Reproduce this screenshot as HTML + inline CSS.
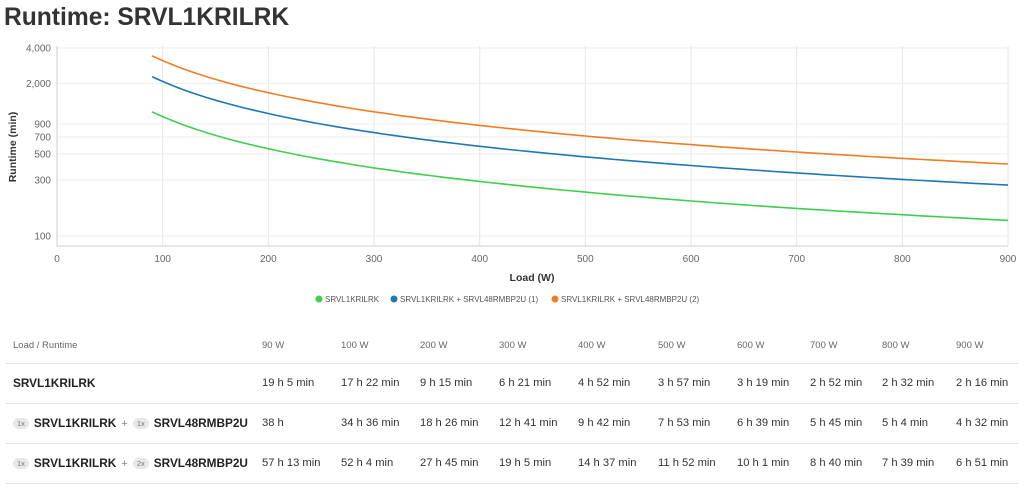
<!DOCTYPE html>
<html><head><meta charset="utf-8"><style>
body{margin:0;width:1024px;height:492px;overflow:hidden;background:#fff;font-family:"Liberation Sans",Arial,sans-serif;color:#333;position:relative}
h1{position:absolute;left:4px;top:4px;margin:0;font-size:24.6px;font-weight:bold;color:#333}
svg{position:absolute;left:0;top:0}
.t{position:absolute;font-size:11.2px;white-space:nowrap}
.hd{font-size:9.5px;color:#666}
.hr{position:absolute;left:5px;width:1014px;height:1px;background:#e4e4e4}
.b{font-weight:bold;font-size:11.8px;color:#222}
.bd{display:inline-block;background:#e8e8e8;border-radius:7px;font-size:7.5px;color:#777;padding:1px 4px;margin-right:5px;vertical-align:1px;font-weight:normal}
.p{color:#888;margin:0 5px;font-weight:normal}
</style></head><body>
<h1>Runtime: SRVL1KRILRK</h1>
<svg id="c" width="1024" height="330" font-family="Liberation Sans, Arial, sans-serif"></svg>
<div id="tb"></div>
<script>
var s='',X=function(w){return 57+w*1.0567},Y=function(v){return 48+(Math.log10(4000)-Math.log10(v))*117.4};
for(var g=100;g<=900;g+=100)s+='<line x1="'+X(g)+'" y1="46" x2="'+X(g)+'" y2="246" stroke="#e6e6e6"/>';
[4000,2000,900,700,500,300,100].forEach(function(v){var y=Y(v);s+='<line x1="57" y1="'+y+'" x2="1008" y2="'+y+'" stroke="#ececec"/><text x="51" y="'+(y+3.5)+'" font-size="10" fill="#666" text-anchor="end">'+v.toLocaleString('en-US')+'</text>';});
s+='<line x1="57" y1="46" x2="57" y2="246" stroke="#ccc"/><line x1="57" y1="246" x2="1008" y2="246" stroke="#ccc"/>';
for(var g=0;g<=900;g+=100)s+='<text x="'+X(g)+'" y="262" font-size="10" fill="#666" text-anchor="middle">'+g+'</text>';
s+='<text x="532" y="281" font-size="10.5" font-weight="bold" fill="#333" text-anchor="middle">Load (W)</text>';
s+='<text transform="translate(16,147) rotate(-90)" font-size="10.5" font-weight="bold" fill="#333" text-anchor="middle">Runtime (min)</text>';
var W=[90,100,200,300,400,500,600,700,800,900];
var D=[[1145,1042,555,381,292,237,199,172,152,136],[2280,2076,1106,761,582,473,399,345,304,272],[3433,3124,1665,1145,877,712,601,520,459,411]];
var C=['#3ecf4f','#1f77b4','#ef7e22'];
D.forEach(function(d,k){var pts=[];for(var i=0;i<W.length-1;i++){for(var t=0;t<=1;t+=0.1){var lw=Math.log(W[i])+(Math.log(W[i+1])-Math.log(W[i]))*t,lv=Math.log(d[i])+(Math.log(d[i+1])-Math.log(d[i]))*t;pts.push(X(Math.exp(lw)).toFixed(1)+','+Y(Math.exp(lv)).toFixed(1));}}
s+='<polyline fill="none" stroke="'+C[k]+'" stroke-width="1.6" points="'+pts.join(' ')+'"/>';});
var L=[[316,'SRVL1KRILRK'],[391,'SRVL1KRILRK + SRVL48RMBP2U (1)'],[552,'SRVL1KRILRK + SRVL48RMBP2U (2)']];
L.forEach(function(l,k){s+='<circle cx="'+(l[0]+3)+'" cy="299" r="3.5" fill="'+C[k]+'"/><text x="'+(l[0]+9)+'" y="302" font-size="8" fill="#555">'+l[1]+'</text>';});
document.getElementById('c').innerHTML=s;
var cx=[262,341,420,499,578,658,737,810,882,956],h='';
var hd=['90 W','100 W','200 W','300 W','400 W','500 W','600 W','700 W','800 W','900 W'];
var R=[['19 h 5 min','17 h 22 min','9 h 15 min','6 h 21 min','4 h 52 min','3 h 57 min','3 h 19 min','2 h 52 min','2 h 32 min','2 h 16 min'],
['38 h','34 h 36 min','18 h 26 min','12 h 41 min','9 h 42 min','7 h 53 min','6 h 39 min','5 h 45 min','5 h 4 min','4 h 32 min'],
['57 h 13 min','52 h 4 min','27 h 45 min','19 h 5 min','14 h 37 min','11 h 52 min','10 h 1 min','8 h 40 min','7 h 39 min','6 h 51 min']];
var lab=['<span class="b">SRVL1KRILRK</span>','<span class="bd">1x</span><span class="b">SRVL1KRILRK</span><span class="p">+</span><span class="bd">1x</span><span class="b">SRVL48RMBP2U</span>','<span class="bd">1x</span><span class="b">SRVL1KRILRK</span><span class="p">+</span><span class="bd">2x</span><span class="b">SRVL48RMBP2U</span>'];
h+='<div class="t hd" style="left:13px;top:340px">Load / Runtime</div>';
hd.forEach(function(x,i){h+='<div class="t hd" style="left:'+cx[i]+'px;top:340px">'+x+'</div>';});
[363,403,443,483].forEach(function(y){h+='<div class="hr" style="top:'+y+'px"></div>';});
R.forEach(function(r,j){var y=376+j*40;h+='<div class="t" style="left:13px;top:'+y+'px">'+lab[j]+'</div>';r.forEach(function(v,i){h+='<div class="t" style="left:'+cx[i]+'px;top:'+(y+1)+'px;color:#333">'+v+'</div>';});});
document.getElementById('tb').innerHTML=h;
</script>
</body></html>
